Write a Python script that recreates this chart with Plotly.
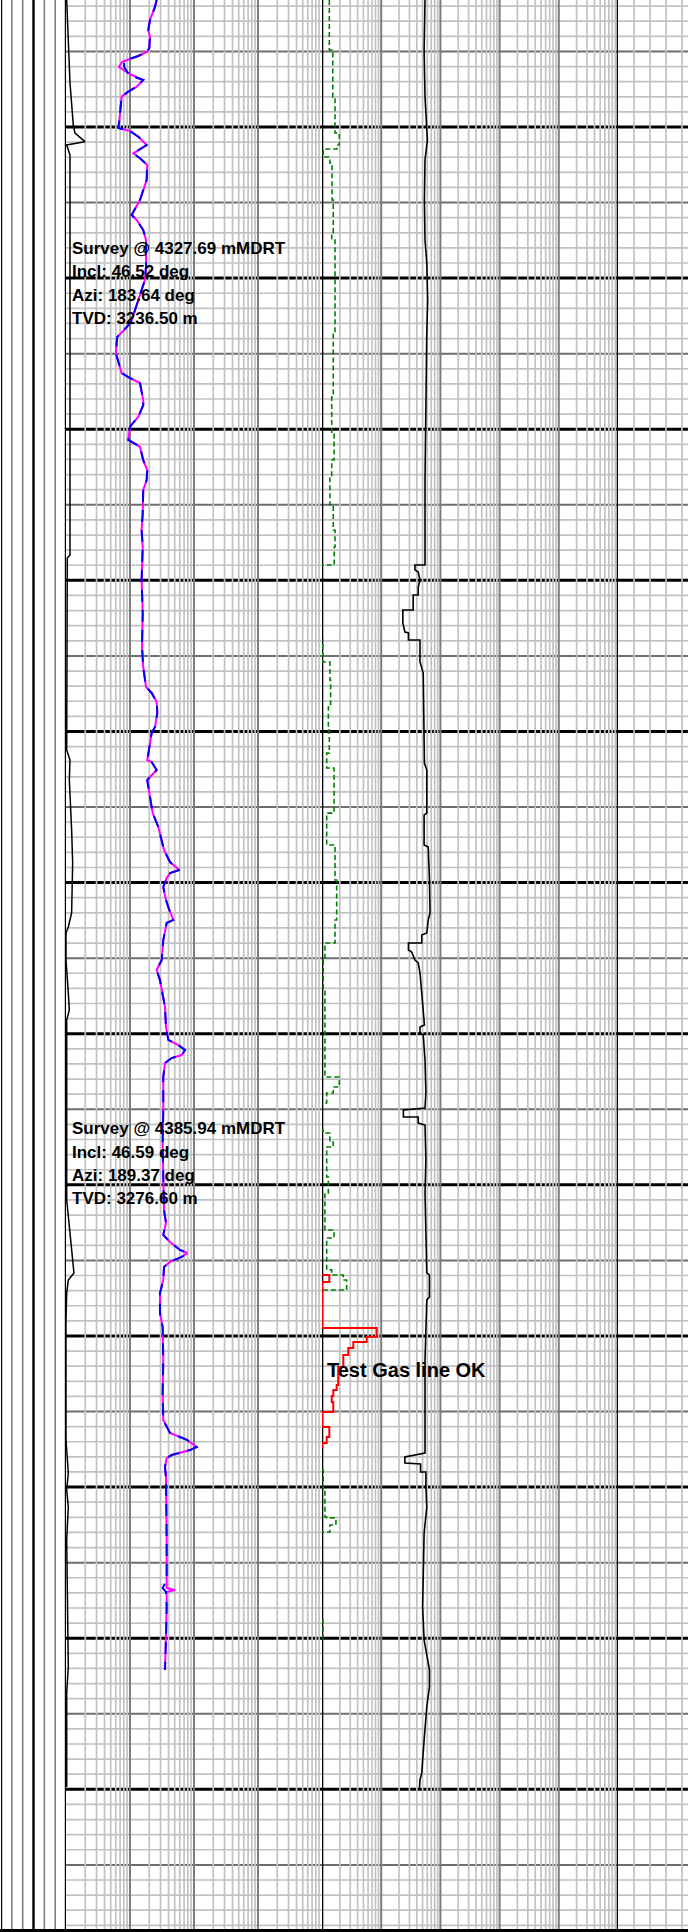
import math
import plotly.graph_objects as go

# ---------------- data ----------------
# Track 2 resistivity-like curves (log scale 0.1 - 1000)
blue_md = [4311.60, 4312.04, 4312.92, 4313.58, 4314.03, 4314.77, 4315.02, 4315.30, 4315.45, 4315.70,
           4316.03, 4316.56, 4316.89, 4317.33, 4317.66, 4317.99, 4319.07, 4320.07, 4320.27, 4320.64,
           4321.19, 4321.74, 4322.07, 4322.51, 4323.51, 4324.83, 4325.82, 4326.15, 4326.82, 4327.48,
           4329.24, 4330.12, 4331.12, 4332.11, 4332.90, 4333.43, 4333.90, 4334.96, 4335.62, 4336.28,
           4336.61, 4336.94, 4338.07, 4338.40, 4339.17, 4339.83, 4340.71, 4341.16, 4342.04, 4342.70,
           4343.36, 4344.02, 4345.54, 4346.67, 4347.79, 4349.98, 4352.16, 4354.41, 4355.73, 4357.06,
           4357.45, 4358.05, 4358.78, 4359.70, 4360.10, 4361.03, 4361.89, 4362.02, 4362.55, 4363.01,
           4363.21, 4364.33, 4365.40, 4366.32, 4367.18, 4367.84, 4368.64, 4368.90, 4369.17, 4369.37,
           4369.70, 4370.29, 4371.15, 4371.81, 4372.47, 4372.67, 4373.80, 4375.12, 4375.78, 4376.45,
           4378.23, 4379.56, 4380.41, 4380.75, 4381.08, 4381.41, 4381.61, 4381.94, 4382.87, 4385.05,
           4387.23, 4389.48, 4391.66, 4392.52, 4393.32, 4393.78, 4394.31, 4394.51, 4394.77, 4395.10,
           4395.44, 4396.30, 4397.16, 4398.48, 4399.41, 4401.59, 4403.77, 4405.56, 4406.42, 4406.88,
           4407.08, 4407.35, 4407.55, 4407.75, 4407.88, 4408.08, 4408.67, 4409.33, 4411.32, 4413.50,
           4416.15, 4416.68, 4416.94, 4417.93, 4420.12, 4422.10]
blue_res = [2.61, 2.46, 2.05, 1.93, 2.05, 2.00, 1.86, 1.35, 1.06, 0.81,
            0.81, 0.97, 1.61, 1.27, 0.94, 0.74, 0.70, 0.66, 1.00, 1.35,
            1.82, 1.13, 1.43, 1.86, 1.82, 1.43, 1.06, 1.27, 1.61, 1.78,
            1.78, 1.71, 1.43, 1.20, 1.04, 0.81, 0.63, 0.60, 0.66, 0.74,
            1.00, 1.43, 1.61, 1.61, 1.35, 1.00, 0.94, 1.43, 1.61, 1.86,
            1.82, 1.61, 1.58, 1.52, 1.58, 1.52, 1.58, 1.54, 1.61, 1.78,
            2.18, 2.61, 2.67, 2.46, 2.18, 2.00, 1.86, 2.18, 2.61, 2.05,
            1.86, 2.05, 2.26, 2.77, 3.13, 3.40, 4.22, 5.05, 5.89, 4.22,
            3.74, 3.31, 3.65, 4.11, 4.75, 3.74, 3.31, 3.13, 2.61, 2.94,
            3.52, 3.65, 3.97, 5.69, 7.23, 6.42, 4.48, 3.52, 3.31, 3.31,
            3.24, 3.31, 3.40, 3.65, 3.31, 4.22, 6.04, 7.86, 6.42, 4.22,
            3.40, 3.31, 2.94, 2.94, 3.24, 3.31, 3.24, 3.31, 4.22, 7.77,
            9.20, 11.0, 8.66, 6.04, 4.48, 3.74, 3.52, 3.65, 3.74, 3.74,
            3.74, 3.24, 3.65, 3.74, 3.65, 3.52]

mag_md = [4311.60, 4312.04, 4312.92, 4313.58, 4314.03, 4314.77, 4315.02, 4315.30, 4315.45, 4315.70,
          4316.03, 4316.56, 4316.89, 4317.33, 4317.66, 4317.99, 4319.07, 4320.07, 4320.27, 4320.64,
          4321.19, 4321.74, 4322.07, 4322.51, 4323.51, 4324.83, 4325.82, 4326.15, 4326.82, 4327.48,
          4329.24, 4330.12, 4331.12, 4332.11, 4332.90, 4333.43, 4333.90, 4334.96, 4335.62, 4336.28,
          4336.61, 4336.94, 4338.07, 4338.40, 4339.17, 4339.83, 4340.71, 4341.16, 4342.04, 4342.70,
          4343.36, 4344.02, 4345.54, 4346.67, 4347.79, 4349.98, 4352.16, 4354.41, 4355.73, 4357.06,
          4357.45, 4358.05, 4358.78, 4359.70, 4360.10, 4361.03, 4361.89, 4362.02, 4362.55, 4363.01,
          4363.21, 4364.33, 4365.40, 4366.32, 4367.18, 4367.84, 4368.64, 4368.90, 4369.17, 4369.37,
          4369.70, 4370.29, 4371.15, 4371.81, 4372.47, 4372.67, 4373.80, 4375.12, 4375.78, 4376.45,
          4378.23, 4379.56, 4380.41, 4380.75, 4381.08, 4381.41, 4381.61, 4381.94, 4382.87, 4385.05,
          4387.23, 4389.48, 4391.66, 4392.52, 4393.32, 4393.78, 4394.31, 4394.51, 4394.77, 4395.10,
          4395.44, 4396.30, 4397.16, 4398.48, 4399.41, 4401.59, 4403.77, 4405.56, 4406.42, 4406.88,
          4407.08, 4407.35, 4407.55, 4407.75, 4407.88, 4408.08, 4408.67, 4409.33, 4411.32, 4413.50,
          4416.15, 4416.68, 4416.81, 4416.94, 4417.93, 4420.12, 4422.10]
mag_res = [2.61, 2.46, 2.05, 1.93, 2.05, 2.00, 1.86, 1.35, 1.06, 0.75,
           0.67, 1.07, 1.61, 1.27, 0.94, 0.74, 0.70, 0.66, 1.00, 1.35,
           1.82, 1.13, 1.43, 1.86, 1.82, 1.43, 1.06, 1.27, 1.61, 1.78,
           1.78, 1.71, 1.43, 1.20, 1.04, 0.81, 0.63, 0.60, 0.66, 0.74,
           1.00, 1.43, 1.61, 1.61, 1.35, 1.00, 0.94, 1.43, 1.61, 1.86,
           1.82, 1.61, 1.58, 1.52, 1.58, 1.52, 1.58, 1.54, 1.61, 1.78,
           2.18, 2.61, 2.67, 2.46, 2.18, 2.00, 1.86, 2.18, 2.61, 2.05,
           1.86, 2.05, 2.26, 2.77, 3.13, 3.40, 4.22, 5.05, 5.89, 4.22,
           3.74, 3.31, 3.65, 4.11, 4.75, 3.74, 3.31, 3.13, 2.61, 2.94,
           3.52, 3.65, 3.97, 5.69, 7.23, 6.42, 4.48, 3.52, 3.31, 3.31,
           3.24, 3.31, 3.40, 3.65, 3.31, 4.22, 6.04, 7.86, 6.42, 4.22,
           3.40, 3.31, 2.94, 2.94, 3.24, 3.31, 3.24, 3.31, 4.22, 7.77,
           9.20, 11.0, 8.66, 6.04, 4.48, 3.74, 3.52, 3.65, 3.74, 3.74,
           3.74, 3.74, 5.05, 3.74, 3.74, 3.65, 3.52]

# Track 2 black curve near left edge (linear overlay 0 - 100)
left_md = [4311.60, 4314.90, 4317.09, 4319.87, 4320.40, 4320.97, 4321.19, 4321.85, 4343.36, 4348.32,
           4348.52, 4361.23, 4361.89, 4363.21, 4366.52, 4368.70, 4372.01, 4372.94, 4373.34, 4375.12,
           4377.30, 4378.43, 4379.09, 4391.00, 4393.19, 4394.97, 4395.83, 4396.30, 4397.16, 4398.94,
           4406.88, 4409.07, 4410.19, 4411.32, 4413.50, 4421.91, 4423.63, 4429.85]
left_val = [0.27, 0.9, 1.56, 2.85, 3.5, 7.4, 0.27, 1.56, 1.56, 1.56,
            0.5, 0.27, 1.56, 1.3, 2.2, 2.6, 2.2, 0.9, 0.0, 0.0,
            0.9, 1.3, 0.27, 0.27, 1.56, 2.6, 3.1, 0.9, 0.27, 0.0,
            0.0, 0.9, 0.27, 0.9, 0.27, 0.9, 0.27, 0.27]

# Track 3 gas curves (log scale 0.01 - 1000), step data: (top depth, value)
green_md = [4311.60, 4314.90, 4318.01, 4320.40, 4321.19, 4321.46, 4321.99, 4322.38, 4324.83, 4327.01,
            4327.48, 4333.63, 4337.87, 4340.25, 4342.04, 4343.23, 4345.01, 4346.67, 4347.79, 4348.98,
            4353.95, 4355.40, 4356.59, 4358.38, 4359.90, 4361.43, 4362.42, 4365.40, 4367.51, 4369.83,
            4372.47, 4374.00, 4375.12, 4377.11, 4382.86, 4383.53, 4383.92, 4384.58, 4386.37, 4386.57,
            4387.17, 4387.50, 4389.48, 4390.54, 4392.99, 4393.52, 4395.63, 4395.97, 4396.30, 4396.96,
            4408.87, 4410.19, 4411.98, 4412.04, 4412.51, 4412.97, 4418.80, 4420.12]
green_gas = [0.0133, 0.0152, 0.0166, 0.0196, 0.0179, 0.0105, 0.0136, 0.0148, 0.0155, 0.0146,
             0.0166, 0.0155, 0.0146, 0.0160, 0.0146, 0.0136, 0.0155, 0.0166, 0.0161, 0.001,
             0.0103, 0.0136, 0.0140, 0.0128, 0.0133, 0.0120, 0.0160, 0.0120, 0.0166, 0.0177,
             0.0166, 0.0112, 0.0105, 0.0112, 0.0196, 0.0155, 0.0120, 0.001, 0.0105, 0.0136,
             0.0155, 0.0120, 0.0128, 0.0112, 0.0160, 0.0120, 0.0146, 0.0229, 0.0261, 0.001,
             0.0105, 0.0112, 0.0120, 0.0172, 0.0136, 0.001, 0.0104, 0.0104]

red_md = [4395.97, 4395.97, 4396.43, 4399.47, 4400.06, 4400.40, 4400.80, 4401.26, 4402.05, 4403.25,
          4403.58, 4403.97, 4404.37, 4405.03, 4406.03, 4406.69, 4407.09, 4407.42]
red_gas = [0.0101, 0.0133, 0.0101, 0.0839, 0.0569, 0.0338, 0.0278, 0.0229, 0.0188, 0.0177,
           0.0155, 0.0146, 0.0155, 0.0101, 0.0133, 0.0120, 0.0101, 0.0101]

# Track 3 black curve (linear overlay 0 - 100)
black_md = [4311.60, 4314.90, 4318.01, 4320.00, 4320.86, 4322.18, 4324.83, 4327.48, 4329.00, 4331.45,
            4333.63, 4343.36, 4348.98, 4348.98, 4349.31, 4349.45, 4349.98, 4350.44, 4350.97, 4350.97,
            4351.96, 4351.96, 4352.82, 4353.42, 4353.48, 4353.95, 4353.95, 4355.40, 4356.13, 4362.09,
            4362.55, 4365.40, 4365.53, 4367.51, 4367.64, 4369.83, 4372.01, 4372.47, 4373.33, 4373.47,
            4374.00, 4374.00, 4374.46, 4374.59, 4375.12, 4375.32, 4375.98, 4377.30, 4378.63, 4379.42,
            4379.56, 4379.95, 4380.08, 4381.74, 4383.92, 4384.92, 4385.05, 4385.51, 4385.51, 4385.91,
            4386.04, 4388.36, 4390.54, 4394.97, 4395.83, 4395.97, 4397.42, 4397.62, 4399.41, 4401.59,
            4407.75, 4408.01, 4408.41, 4408.47, 4409.00, 4409.00, 4409.99, 4411.32, 4413.04, 4415.68,
            4417.93, 4420.12, 4421.24, 4422.10, 4423.23, 4424.55, 4426.74, 4428.92, 4429.38, 4429.98]
black_val = [34.8, 34.5, 34.8, 35.4, 35.6, 34.8, 34.6, 34.8, 35.4, 35.7,
             35.4, 34.8, 34.8, 31.4, 31.4, 32.5, 33.1, 32.5, 32.5, 30.8,
             30.8, 27.3, 27.3, 28.0, 29.2, 29.2, 33.1, 33.1, 34.2, 34.6,
             35.4, 35.4, 34.5, 34.5, 35.9, 36.3, 36.5, 35.9, 35.4, 33.7,
             33.7, 29.2, 29.2, 30.3, 31.4, 32.5, 33.1, 33.7, 34.2, 34.6,
             33.1, 33.1, 34.2, 34.8, 35.1, 34.8, 27.5, 27.5, 32.5, 32.5,
             34.8, 35.1, 34.8, 35.1, 35.4, 36.3, 36.3, 35.4, 35.1, 34.8,
             34.8, 28.0, 28.0, 33.3, 33.3, 35.1, 35.1, 35.4, 34.5, 34.2,
             34.0, 34.5, 35.4, 36.3, 36.3, 35.4, 34.5, 33.7, 33.1, 32.9]

survey_md = [4327.69, 4385.94]
survey_incl = [46.52, 46.59]
survey_azi = [183.64, 189.37]
survey_tvd = [3236.50, 3276.60]

comment_md = [4402.25]
comment_text = ["Test Gas line OK"]

# ---------------- layout geometry ----------------
W, H = 688, 1932
PX_PER_M = 15.112
TOP_MD = 4311.596
BOT_MD = TOP_MD + H / PX_PER_M

T1 = [1 / W, 66 / W]
T2 = [66 / W, 322 / W]
T3 = [322 / W, 618 / W]
T4 = [618 / W, 1.0]

LIGHT = "#c2c2c2"
DARK = "#6e6e6e"
DECADE = "#7c7c7c"

fig = go.Figure()

# curves
fig.add_trace(go.Scatter(x=left_val, y=left_md, xaxis="x4", yaxis="y", mode="lines",
                         line=dict(color="black", width=1.5), hoverinfo="skip", showlegend=False))
fig.add_trace(go.Scatter(x=mag_res, y=mag_md, xaxis="x", yaxis="y", mode="lines",
                         line=dict(color="#ff00ff", width=2), hoverinfo="skip", showlegend=False))
fig.add_trace(go.Scatter(x=blue_res, y=blue_md, xaxis="x", yaxis="y", mode="lines",
                         line=dict(color="#0000ff", width=2, dash="12px,8px"), hoverinfo="skip", showlegend=False))
fig.add_trace(go.Scatter(x=green_gas, y=green_md, xaxis="x2", yaxis="y", mode="lines",
                         line=dict(color="#008000", width=1.6, dash="5px,3px", shape="vh"),
                         hoverinfo="skip", showlegend=False))
fig.add_trace(go.Scatter(x=red_gas, y=red_md, xaxis="x2", yaxis="y", mode="lines",
                         line=dict(color="#ff0000", width=2, shape="vh"), hoverinfo="skip", showlegend=False))
fig.add_trace(go.Scatter(x=black_val, y=black_md, xaxis="x5", yaxis="y", mode="lines",
                         line=dict(color="black", width=1.6), hoverinfo="skip", showlegend=False))
# empty traces so that track 1 and track 4 subplots exist
fig.add_trace(go.Scatter(x=[None], y=[None], xaxis="x3", yaxis="y", mode="lines",
                         hoverinfo="skip", showlegend=False))
fig.add_trace(go.Scatter(x=[None], y=[None], xaxis="x6", yaxis="y", mode="lines",
                         hoverinfo="skip", showlegend=False))

shapes = []
# horizontal depth grid (tracks 2-4), drawn first so vertical lines sit on top
for md in range(math.ceil(TOP_MD), int(BOT_MD) + 1):
    if md % 10 == 0:
        col, w = "black", 3
    elif md % 5 == 0:
        col, w = DARK, 2
    else:
        col, w = LIGHT, 1.7
    shapes.append(dict(type="line", xref="paper", yref="y", x0=T2[0], x1=1.0, y0=md, y1=md,
                       line=dict(color=col, width=w), layer="below"))

# track 2 log grid (4 decades) -- shape coordinates are data values on log axes
for n in range(-1, 3):
    for k in range(2, 10):
        v = k * 10.0 ** n
        shapes.append(dict(type="line", xref="x", yref="paper", x0=v, x1=v, y0=0, y1=1,
                           line=dict(color=LIGHT, width=1.7), layer="below"))
# track 3 log grid (5 decades)
for n in range(-2, 3):
    for k in range(2, 10):
        v = k * 10.0 ** n
        shapes.append(dict(type="line", xref="x2", yref="paper", x0=v, x1=v, y0=0, y1=1,
                           line=dict(color=LIGHT, width=1.7), layer="below"))
# track 4 linear grid
for v in range(10, 50, 10):
    shapes.append(dict(type="line", xref="x3", yref="paper", x0=v, x1=v, y0=0, y1=1,
                       line=dict(color=LIGHT, width=1.7), layer="below"))
# decade lines
for v in [1, 10, 100]:
    shapes.append(dict(type="line", xref="x", yref="paper", x0=v, x1=v, y0=0, y1=1,
                       line=dict(color=DECADE, width=2), layer="below"))
for v in [0.1, 1, 10, 100]:
    shapes.append(dict(type="line", xref="x2", yref="paper", x0=v, x1=v, y0=0, y1=1,
                       line=dict(color=DECADE, width=2), layer="below"))
# track 1 lines
for v in range(0, 7):
    black = v % 3 == 0
    shapes.append(dict(type="line", xref="x6", yref="paper", x0=v, x1=v, y0=0, y1=1,
                       line=dict(color="black" if black else "#7f7f7f", width=2.4 if black else 1.6),
                       layer="below"))
# track borders
for ref, v in [("x2", 0.01), ("x2", 1000)]:
    shapes.append(dict(type="line", xref=ref, yref="paper", x0=v, x1=v, y0=0, y1=1,
                       line=dict(color="black", width=2.6), layer="below"))
# bottom border
shapes.append(dict(type="line", xref="paper", yref="paper", x0=0, x1=1, y0=1.5 / H, y1=1.5 / H,
                   line=dict(color="black", width=3), layer="above"))

FONT = "Liberation Sans, Arial, sans-serif"
annotations = []
LINE_M = 23.2 / PX_PER_M
for md, inc, azi, tvd in zip(survey_md, survey_incl, survey_azi, survey_tvd):
    lines = [f"Survey @ {md:.2f} mMDRT", f"Incl: {inc:.2f} deg", f"Azi: {azi:.2f} deg", f"TVD: {tvd:.2f} m"]
    for j, t in enumerate(lines):
        annotations.append(dict(text=f"<b>{t}</b>", xref="paper", yref="y", x=T2[0] + 4 / W,
                                y=md + 0.36 + j * LINE_M, xanchor="left", yanchor="middle",
                                showarrow=False, font=dict(family=FONT, size=17, color="black")))
for md, t in zip(comment_md, comment_text):
    annotations.append(dict(text=f"<b>{t}</b>", xref="paper", yref="y", x=T3[0] + 3 / W, y=md,
                            xanchor="left", yanchor="middle", showarrow=False,
                            font=dict(family=FONT, size=20, color="black")))

ax_common = dict(visible=False, showgrid=False, zeroline=False, fixedrange=True)
fig.update_layout(
    width=W, height=H, autosize=False,
    margin=dict(l=0, r=0, t=0, b=0, pad=0),
    paper_bgcolor="white", plot_bgcolor="white",
    showlegend=False,
    xaxis=dict(domain=T2, type="log", range=[-1, 3], anchor="y", **ax_common),
    xaxis2=dict(domain=T3, type="log", range=[-2, 3], anchor="y", **ax_common),
    xaxis3=dict(domain=T4, range=[0, 43.75], anchor="y", **ax_common),
    xaxis4=dict(overlaying="x", range=[0, 100], anchor="y", **ax_common),
    xaxis5=dict(overlaying="x2", range=[0, 100], anchor="y", **ax_common),
    xaxis6=dict(domain=T1, range=[0, 6], anchor="y", **ax_common),
    yaxis=dict(domain=[0, 1], range=[BOT_MD, TOP_MD], anchor="x", **ax_common),
    shapes=shapes,
    annotations=annotations,
)

# remove the browser's default 8px body margin so the figure fills the window exactly
fig.write_html("out.html", config={"displayModeBar": False},
               post_script="document.body.style.margin='0';document.documentElement.style.overflow='hidden';")
